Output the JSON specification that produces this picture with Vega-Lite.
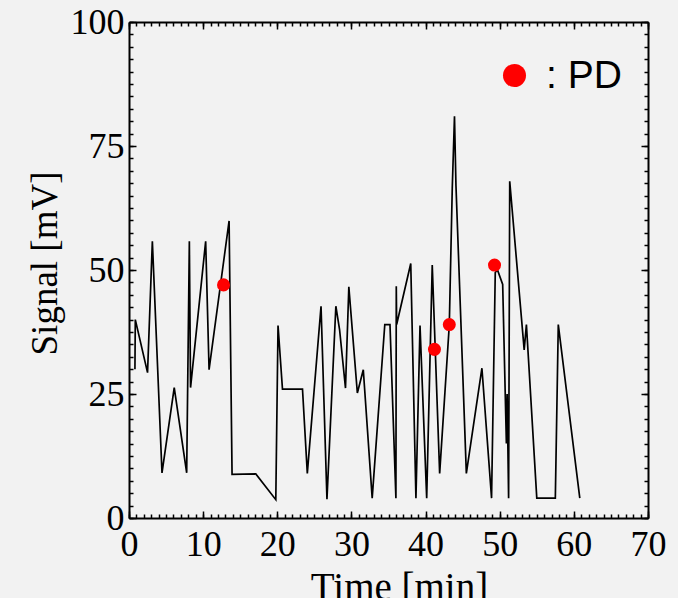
{
  "$schema": "https://vega.github.io/schema/vega-lite/v6.json",
  "width": 519,
  "height": 496,
  "autosize": {"type": "none"},
  "padding": {"left": 129, "top": 22, "right": 30, "bottom": 80},
  "background": "#f2f2f2",
  "datasets": {
    "line": [
      {"i": 1, "t": 0.8, "v": 30},
      {"i": 2, "t": 0.85, "v": 40},
      {"i": 3, "t": 2.5, "v": 29.3},
      {"i": 4, "t": 3.15, "v": 55.8},
      {"i": 5, "t": 4.45, "v": 9.1},
      {"i": 6, "t": 6.1, "v": 26.3},
      {"i": 7, "t": 7.78, "v": 9.1},
      {"i": 8, "t": 8.14, "v": 55.8},
      {"i": 9, "t": 8.3, "v": 26.3},
      {"i": 10, "t": 10.34, "v": 55.8},
      {"i": 11, "t": 10.8, "v": 29.9},
      {"i": 12, "t": 13.5, "v": 59.9},
      {"i": 13, "t": 13.9, "v": 8.8},
      {"i": 14, "t": 17.1, "v": 8.9},
      {"i": 15, "t": 19.8, "v": 3.7},
      {"i": 16, "t": 20.1, "v": 38.8},
      {"i": 17, "t": 20.7, "v": 26},
      {"i": 18, "t": 23.4, "v": 26},
      {"i": 19, "t": 24.05, "v": 9},
      {"i": 20, "t": 25.9, "v": 42.7},
      {"i": 21, "t": 26.7, "v": 3.8},
      {"i": 22, "t": 27.9, "v": 42.7},
      {"i": 23, "t": 28.4, "v": 38},
      {"i": 24, "t": 29.2, "v": 26.2},
      {"i": 25, "t": 29.65, "v": 46.6},
      {"i": 26, "t": 30.8, "v": 25.2},
      {"i": 27, "t": 31.6, "v": 29.9},
      {"i": 28, "t": 32.8, "v": 4},
      {"i": 29, "t": 34.5, "v": 39},
      {"i": 30, "t": 35.2, "v": 39},
      {"i": 31, "t": 36.0, "v": 4},
      {"i": 32, "t": 36.05, "v": 46.7},
      {"i": 33, "t": 36.1, "v": 39},
      {"i": 34, "t": 38.0, "v": 51.3},
      {"i": 35, "t": 38.7, "v": 4},
      {"i": 36, "t": 39.25, "v": 38.8},
      {"i": 37, "t": 40.15, "v": 4},
      {"i": 38, "t": 40.9, "v": 51},
      {"i": 39, "t": 41.9, "v": 9},
      {"i": 40, "t": 43.2, "v": 38.9},
      {"i": 41, "t": 43.6, "v": 66.5},
      {"i": 42, "t": 43.9, "v": 81},
      {"i": 43, "t": 44.1, "v": 67},
      {"i": 44, "t": 45.5, "v": 9},
      {"i": 45, "t": 47.6, "v": 30.2},
      {"i": 46, "t": 48.9, "v": 4},
      {"i": 47, "t": 49.4, "v": 49.5},
      {"i": 48, "t": 49.7, "v": 50},
      {"i": 49, "t": 50.4, "v": 47.1},
      {"i": 50, "t": 50.9, "v": 15},
      {"i": 51, "t": 51.0, "v": 25},
      {"i": 52, "t": 51.2, "v": 4},
      {"i": 53, "t": 51.35, "v": 67.9},
      {"i": 54, "t": 53.3, "v": 33.9},
      {"i": 55, "t": 53.6, "v": 39},
      {"i": 56, "t": 55.0, "v": 4},
      {"i": 57, "t": 57.5, "v": 4},
      {"i": 58, "t": 57.9, "v": 39},
      {"i": 59, "t": 60.8, "v": 4}
    ],
    "pd": [
      {"t": 12.75, "v": 47},
      {"t": 41.2, "v": 34},
      {"t": 43.2, "v": 39},
      {"t": 49.3, "v": 51}
    ]
  },
  "layer": [
    {
      "data": {"name": "line"},
      "mark": {"type": "line", "color": "black", "strokeWidth": 1.7, "strokeJoin": "miter"},
      "encoding": {
        "x": {
          "field": "t", "type": "quantitative",
          "scale": {"domain": [0, 70], "nice": false, "zero": false},
          "axis": {
            "orient": "bottom", "values": [0, 10, 20, 30, 40, 50, 60, 70],
            "tickSize": -7, "labelPadding": 16, "title": "Time [min]",
            "titleX": 270, "titlePadding": 6, "titleFontSize": 39
          }
        },
        "y": {
          "field": "v", "type": "quantitative",
          "scale": {"domain": [0, 100], "nice": false},
          "axis": {
            "orient": "left", "values": [0, 25, 50, 75, 100],
            "tickSize": -7, "labelPadding": 12, "title": "Signal [mV]",
            "titlePadding": 6, "titleY": 241
          }
        },
        "order": {"field": "i", "type": "quantitative"}
      }
    },
    {
      "data": {"name": "pd"},
      "mark": {"type": "point", "shape": "circle", "filled": true, "opacity": 1, "size": 170},
      "encoding": {
        "x": {
          "field": "t", "type": "quantitative",
          "axis": {
            "orient": "bottom",
            "values": [0,1,2,3,4,5,6,7,8,9,10,11,12,13,14,15,16,17,18,19,20,21,22,23,24,25,26,27,28,29,30,31,32,33,34,35,36,37,38,39,40,41,42,43,44,45,46,47,48,49,50,51,52,53,54,55,56,57,58,59,60,61,62,63,64,65,66,67,68,69,70],
            "tickSize": -4, "labels": false, "domain": false, "title": null
          }
        },
        "y": {
          "field": "v", "type": "quantitative",
          "axis": {
            "orient": "left",
            "values": [0,2.5,5,7.5,10,12.5,15,17.5,20,22.5,25,27.5,30,32.5,35,37.5,40,42.5,45,47.5,50,52.5,55,57.5,60,62.5,65,67.5,70,72.5,75,77.5,80,82.5,85,87.5,90,92.5,95,97.5,100],
            "tickSize": -4, "labels": false, "domain": false, "title": null
          }
        },
        "color": {
          "datum": ": PD",
          "scale": {"range": ["#ff0000"]},
          "legend": {
            "orient": "none", "legendX": 366, "legendY": 34, "title": null,
            "symbolType": "circle", "symbolSize": 530, "symbolStrokeWidth": 0,
            "labelFont": "Liberation Sans", "labelFontSize": 39, "labelColor": "black",
            "labelOffset": 12, "padding": 0
          }
        }
      }
    },
    {
      "data": {"name": "pd"},
      "mark": {"type": "point", "opacity": 0},
      "encoding": {
        "x": {
          "field": "t", "type": "quantitative",
          "axis": {
            "orient": "top", "values": [0, 10, 20, 30, 40, 50, 60, 70],
            "tickSize": -7, "labels": false, "title": null
          }
        },
        "y": {
          "field": "v", "type": "quantitative",
          "axis": {
            "orient": "right", "values": [0, 25, 50, 75, 100],
            "tickSize": -7, "labels": false, "title": null
          }
        }
      }
    },
    {
      "data": {"name": "pd"},
      "mark": {"type": "point", "opacity": 0},
      "encoding": {
        "x": {
          "field": "t", "type": "quantitative",
          "axis": {
            "orient": "top",
            "values": [0,1,2,3,4,5,6,7,8,9,10,11,12,13,14,15,16,17,18,19,20,21,22,23,24,25,26,27,28,29,30,31,32,33,34,35,36,37,38,39,40,41,42,43,44,45,46,47,48,49,50,51,52,53,54,55,56,57,58,59,60,61,62,63,64,65,66,67,68,69,70],
            "tickSize": -4, "labels": false, "domain": false, "title": null
          }
        },
        "y": {
          "field": "v", "type": "quantitative",
          "axis": {
            "orient": "right",
            "values": [0,2.5,5,7.5,10,12.5,15,17.5,20,22.5,25,27.5,30,32.5,35,37.5,40,42.5,45,47.5,50,52.5,55,57.5,60,62.5,65,67.5,70,72.5,75,77.5,80,82.5,85,87.5,90,92.5,95,97.5,100],
            "tickSize": -4, "labels": false, "domain": false, "title": null
          }
        }
      }
    }
  ],
  "resolve": {"axis": {"x": "independent", "y": "independent"}},
  "config": {
    "view": {"stroke": null, "fill": "#f2f2f2"},
    "axis": {
      "grid": false,
      "labelFont": "Liberation Serif", "labelFontSize": 36, "labelColor": "black",
      "labelFlush": false, "labelOverlap": false,
      "titleFont": "Liberation Serif", "titleFontSize": 37, "titleFontWeight": "normal", "titleColor": "black",
      "tickColor": "black", "tickWidth": 1.5,
      "domainColor": "black", "domainWidth": 2
    }
  }
}
